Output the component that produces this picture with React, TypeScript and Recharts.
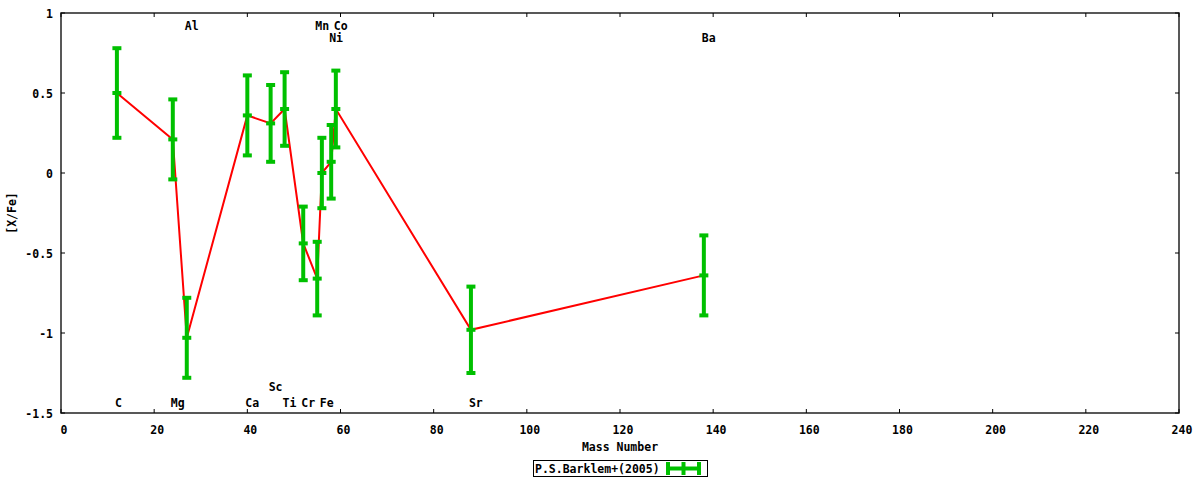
import React from 'react';
import { ComposedChart, Line, Scatter, XAxis, YAxis, ErrorBar, ReferenceArea } from 'recharts';

if (typeof document !== 'undefined') {
  document.body.style.margin = '0';
}

// ---- data ----
const elements = ['C', 'Mg', 'Al', 'Ca', 'Sc', 'Ti', 'Cr', 'Mn', 'Fe', 'Ni', 'Co', 'Sr', 'Ba'];
const massNumbers = [12, 24, 27, 40, 45, 48, 52, 55, 56, 58, 59, 88, 138];
const xFeValues = [0.5, 0.21, -1.03, 0.36, 0.31, 0.4, -0.44, -0.66, 0.0, 0.07, 0.4, -0.98, -0.64];
const xFeErrors = [0.28, 0.25, 0.25, 0.25, 0.24, 0.23, 0.23, 0.23, 0.22, 0.23, 0.24, 0.27, 0.25];
const labelRows = ['bottom', 'bottom', 'top', 'bottom', 'bottom2', 'bottom', 'bottom', 'top', 'bottom', 'top2', 'top', 'bottom', 'top2'];
const xTicks = [0, 20, 40, 60, 80, 100, 120, 140, 160, 180, 200, 220, 240];
const yTicks = [-1.5, -1, -0.5, 0, 0.5, 1];
const legendName = 'P.S.Barklem+(2005)';

// ---- layout ----
const W = 1200;
const H = 480;
const PLOT_LEFT = 61;
const PLOT_TOP = 13;
const PLOT_RIGHT = 1179;
const PLOT_BOTTOM = 413;
const GREEN = '#00c000';
const RED = '#ff0000';
const FONT = "'DejaVu Sans Mono', 'Liberation Mono', monospace";
const FS = 11.5;

const rowValue: Record<string, number> = { top: 0.92, top2: 0.846, bottom: -1.435, bottom2: -1.335 };

const points = massNumbers.map((m, i) => ({ mass: m, value: xFeValues[i], err: xFeErrors[i] }));
const labels = massNumbers.map((m, i) => ({ mass: m, labelY: rowValue[labelRows[i]], el: elements[i] }));

const textStyle = { fontFamily: FONT, fontSize: FS, fontWeight: 700, fill: '#000' } as const;

const XTick = (props: any) => {
  const { x, payload } = props;
  return (
    <g>
      <line x1={x} y1={PLOT_BOTTOM} x2={x} y2={PLOT_BOTTOM - 4} stroke="#000" strokeWidth={1} />
      <line x1={x} y1={PLOT_TOP} x2={x} y2={PLOT_TOP + 4} stroke="#000" strokeWidth={1} />
      <text x={x + 3} y={PLOT_BOTTOM + 17} textAnchor="middle" dominantBaseline="central" style={textStyle}>
        {payload.value}
      </text>
    </g>
  );
};

const YTick = (props: any) => {
  const { y, payload } = props;
  return (
    <g>
      <line x1={PLOT_LEFT} y1={y} x2={PLOT_LEFT + 4} y2={y} stroke="#000" strokeWidth={1} />
      <line x1={PLOT_RIGHT} y1={y} x2={PLOT_RIGHT - 4} y2={y} stroke="#000" strokeWidth={1} />
      <text x={PLOT_LEFT - 8} y={y + 1} textAnchor="end" dominantBaseline="central" style={textStyle}>
        {payload.value}
      </text>
    </g>
  );
};

const CenterMark = (props: any) => {
  const { cx, cy } = props;
  if (cx == null || cy == null) return null;
  return <rect x={cx - 4.5} y={cy - 2} width={9} height={4} fill={GREEN} />;
};

const ElementLabel = (props: any) => {
  const { cx, cy, payload } = props;
  if (cx == null || cy == null) return null;
  return (
    <text x={cx - 2} y={cy} textAnchor="start" dominantBaseline="central" style={textStyle}>
      {payload.el}
    </text>
  );
};

export default function App() {
  return (
    <div style={{ position: 'relative', width: W, height: H, background: '#fff' }}>
      <ComposedChart
        width={W}
        height={H}
        data={points}
        margin={{ top: PLOT_TOP, right: W - PLOT_RIGHT, left: 0, bottom: 37 }}
      >
        <XAxis
          type="number"
          dataKey="mass"
          domain={[0, 240]}
          ticks={xTicks}
          interval={0}
          allowDataOverflow
          height={H - PLOT_BOTTOM - 37}
          axisLine={false}
          tickLine={false}
          tickSize={0}
          tickMargin={0}
          tick={<XTick />}
        />
        <YAxis
          type="number"
          domain={[-1.5, 1]}
          ticks={yTicks}
          interval={0}
          allowDataOverflow
          width={PLOT_LEFT}
          axisLine={false}
          tickLine={false}
          tickSize={0}
          tickMargin={0}
          tick={<YTick />}
        />
        <ReferenceArea x1={0} x2={240} y1={-1.5} y2={1} fill="none" stroke="#222" strokeWidth={1.5} />
        <Line
          type="linear"
          dataKey="value"
          stroke={RED}
          strokeWidth={2}
          dot={false}
          activeDot={false}
          isAnimationActive={false}
        />
        <Scatter data={points} dataKey="value" shape={<CenterMark />} isAnimationActive={false}>
          <ErrorBar dataKey="err" direction="y" width={4.5} strokeWidth={4} stroke={GREEN} isAnimationActive={false} />
        </Scatter>
        <Scatter data={labels} dataKey="labelY" shape={<ElementLabel />} isAnimationActive={false} />
      </ComposedChart>
      <svg
        width={W}
        height={H}
        style={{ position: 'absolute', left: 0, top: 0, pointerEvents: 'none' }}
      >
        <text
          x={12}
          y={213}
          transform="rotate(-90 12 213)"
          textAnchor="middle"
          dominantBaseline="central"
          style={textStyle}
        >
          [X/Fe]
        </text>
        <text x={620} y={447} textAnchor="middle" dominantBaseline="central" style={textStyle}>
          Mass Number
        </text>
        <rect x={533.5} y={460.5} width={174} height={16} fill="#fff" stroke="#000" strokeWidth={1} />
        <text x={535} y={468.5} textAnchor="start" dominantBaseline="central" style={textStyle}>
          {legendName}
        </text>
        <line x1={666} y1={468.5} x2={701} y2={468.5} stroke={GREEN} strokeWidth={4} />
        <line x1={668} y1={462} x2={668} y2={475} stroke={GREEN} strokeWidth={4} />
        <line x1={683.5} y1={462} x2={683.5} y2={475} stroke={GREEN} strokeWidth={4} />
        <line x1={699} y1={462} x2={699} y2={475} stroke={GREEN} strokeWidth={4} />
      </svg>
    </div>
  );
}
